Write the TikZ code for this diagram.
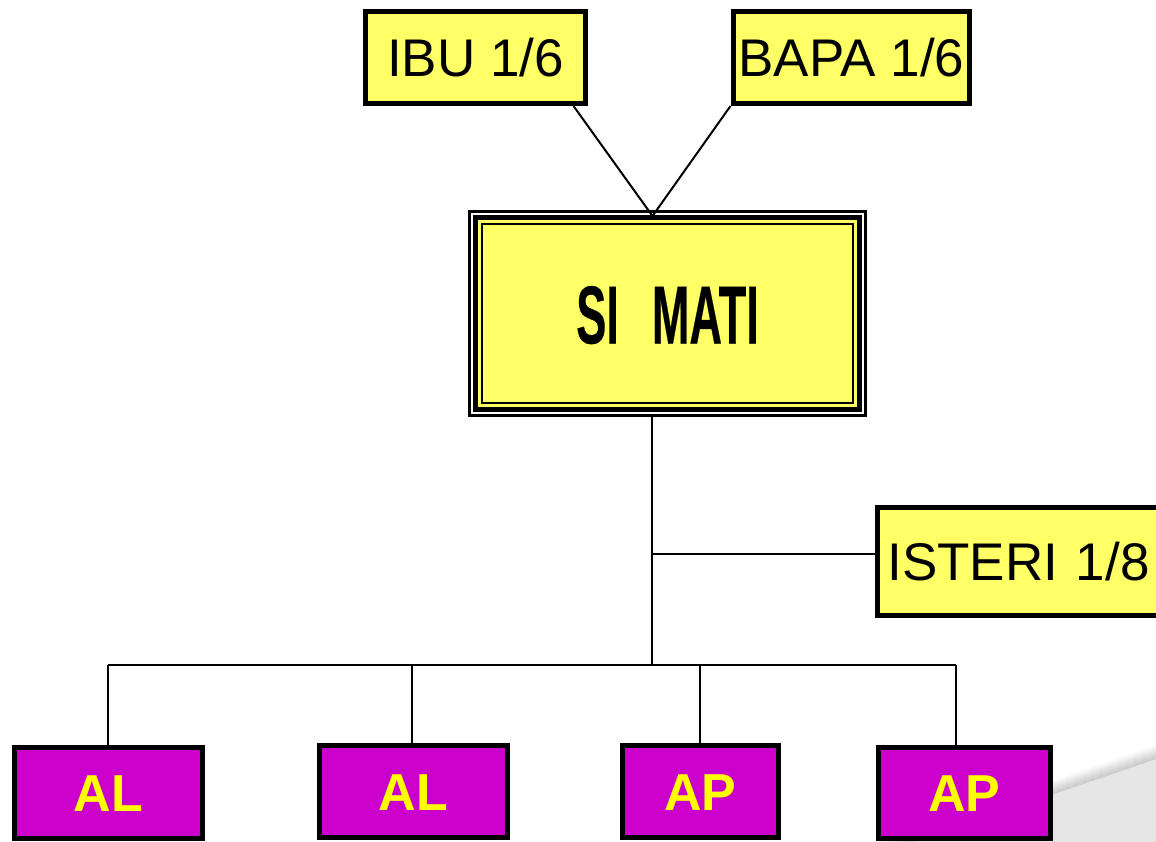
\documentclass[tikz,border=0pt]{standalone}
\usepackage{fontspec}
\setmainfont{Liberation Sans}
\usetikzlibrary{calc}
\definecolor{boxyellow}{HTML}{FFFF66}
\definecolor{boxpurple}{HTML}{CC00CC}
\definecolor{txtyellow}{HTML}{FFFF00}
\definecolor{swooshgray}{HTML}{E6E6E6}
\begin{document}
\begin{tikzpicture}[x=1pt,y=-1pt,
  ybox/.style={draw=black, line width=5pt, fill=boxyellow, inner sep=0pt,
    text height=37.9pt, text depth=0pt, font=\fontsize{53}{60}\selectfont},
  pbox/.style={draw=black, line width=5pt, fill=boxpurple, inner sep=0pt, text=txtyellow,
    text height=37.2pt, text depth=0pt, font=\fontsize{52}{60}\selectfont\bfseries},
  conn/.style={draw=black, line width=2pt}]
\useasboundingbox (0,0) rectangle (1156,842);
\clip (0,0) rectangle (1156,842);
\fill[white] (0,0) rectangle (1156,842);

% background swoosh
\coordinate (sw1) at (840,867.4);
\coordinate (sw2) at (1156,759);
\fill[swooshgray] (sw1) -- (sw2) -- (1200,900) -- (840,900) -- cycle;
\foreach \i in {0,...,13}{
  \pgfmathsetmacro\op{0.17*(1-\i/14)}
  \draw[line width=1.05pt, black, opacity=\op] ($(sw1)+(0,-\i-0.5)$) -- ($(sw2)+(0,-\i-0.5)$);
}

% SI MATI frame
\node[minimum width=399pt, minimum height=207pt, inner sep=0pt, outer sep=0pt] (simati) at (667.5,313.5) {};
\fill[white] (simati.north west) rectangle (simati.south east);
\draw[line width=2.6pt] ([shift={(1.3pt,-1.3pt)}]simati.north west) rectangle ([shift={(-1.3pt,1.3pt)}]simati.south east);
\fill[boxyellow] ([shift={(5.2pt,-5.2pt)}]simati.north west) rectangle ([shift={(-5.2pt,5.2pt)}]simati.south east);
\draw[line width=5pt] ([shift={(7.7pt,-7.7pt)}]simati.north west) rectangle ([shift={(-7.7pt,7.7pt)}]simati.south east);
\draw[line width=2.5pt] ([shift={(13.8pt,-13.8pt)}]simati.north west) rectangle ([shift={(-13.8pt,13.8pt)}]simati.south east);
\node[inner sep=0pt, text height=58.7pt, text depth=0pt] (simatilbl) at ([yshift=-0.5pt]simati.center)
  {\fontsize{82}{82}\selectfont\bfseries\addfontfeatures{FakeBold=0.5}\scalebox{0.55}[1]{SI\hspace{60pt}MATI}};

% top boxes
\node[ybox, minimum width=220pt, minimum height=92pt] (ibu) at (475.5,57.5) {IBU 1/6};
\node[ybox, minimum width=236pt, minimum height=92pt] (bapa) at (851.5,57.5) {BAPA 1/6};

% right box
\node[ybox, anchor=west, minimum height=108pt, text width=380pt, align=left, inner xsep=10pt] (isteri) at (875,561.5) {ISTERI 1/8};

% bottom boxes
\node[pbox, minimum width=188pt, minimum height=91pt] (al1) at (108.5,793) {AL};
\node[pbox, minimum width=188pt, minimum height=92pt] (al2) at (413.5,791.5) {AL};
\node[pbox, minimum width=156pt, minimum height=92pt] (ap1) at (700.5,791.5) {AP};
\node[pbox, minimum width=172pt, minimum height=91pt] (ap2) at (964.5,793) {AP};

% connectors
\coordinate (apex) at (652.5,216);
\draw[conn] ([xshift=98pt]ibu.south) -- (apex);
\draw[conn] ([xshift=-121pt]bapa.south) -- (apex);

\coordinate (trtop) at (652,417);
\coordinate (tee) at (652,554);
\coordinate (bus) at (652,665);
\draw[conn] (trtop) -- (bus);
\draw[conn] (tee) -- (tee -| isteri.west);

\coordinate (d1) at (108,665);
\coordinate (d2) at (412,665);
\coordinate (d3) at (700,665);
\coordinate (d4) at (956,665);
\draw[conn] (d1) -- (d4);
\draw[conn] (d1) -- (d1 |- al1.north);
\draw[conn] (d2) -- (d2 |- al2.north);
\draw[conn] (d3) -- (d3 |- ap1.north);
\draw[conn] (d4) -- (d4 |- ap2.north);
\end{tikzpicture}
\end{document}
